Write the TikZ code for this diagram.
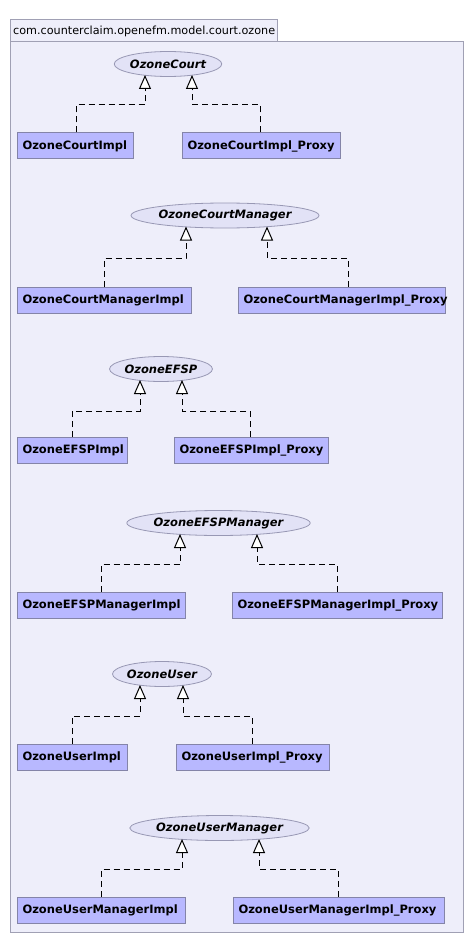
\documentclass[tikz,border=0pt]{standalone}
\usepackage{fontspec}
\setsansfont{DejaVu Sans}
\usetikzlibrary{arrows.meta,calc,shapes.geometric}
\definecolor{bgc}{HTML}{EEEEFA}
\definecolor{framec}{HTML}{A0A0B4}
\definecolor{boxc}{HTML}{B8B8FF}
\definecolor{boxb}{HTML}{8484A8}
\definecolor{ellc}{HTML}{E2E2F6}
\definecolor{ellb}{HTML}{9898B4}
\tikzset{
  x=1pt,y=-1pt,
  classbox/.style={draw=boxb,fill=boxc,line width=1pt,anchor=west,minimum height=26pt,
    inner xsep=5pt,inner ysep=0pt,align=left,font=\sffamily\bfseries\fontsize{11.5}{13}\selectfont},
  iface/.style={ellipse,draw=ellb,fill=ellc,line width=0.8pt,minimum height=25pt,inner sep=0pt,
    font=\sffamily\bfseries\itshape\fontsize{11.5}{13}\selectfont},
  impl/.style={draw=black,line width=1pt,dash pattern=on 6pt off 4pt,
    -{Triangle[length=14pt,width=12pt,fill=white,line width=1pt]}},
}
\begin{document}
\begin{tikzpicture}
\useasboundingbox (0,0) rectangle (473,952);
\fill[white] (0,0) rectangle (473,952);
% package frame
\draw[framec,fill=bgc,line width=1pt] (10,42) rectangle (463,932);
\draw[framec,fill=bgc,line width=1pt] (10,20) rectangle (277,42);
\node[anchor=west,inner sep=0pt,font=\sffamily\fontsize{11.2}{13}\selectfont] (pkg) at (13,31.5) {com.counterclaim.openefm.model.court.ozone};

% Row 1
\node[iface,minimum width=94pt] (e1) at (168,64) {OzoneCourt};
\node[classbox,minimum width=116pt,text width=106pt] (l1) at (17,146) {OzoneCourtImpl};
\node[classbox,minimum width=158pt,text width=148pt] (r1) at (182,146) {OzoneCourtImpl\_Proxy};
\draw[impl] (l1.north -| 76,0) |- (145,105) -- ($(e1.center)+(-23,11)$);
\draw[impl] (r1.north -| 260,0) |- (192,105) -- ($(e1.center)+(24,11)$);

% Row 2
\node[iface,minimum width=162pt] (e2) at (225,215.5) {OzoneCourtManager};
\node[classbox,minimum width=174pt,text width=164pt] (l2) at (17,300) {OzoneCourtManagerImpl};
\node[classbox,minimum width=207pt,text width=197pt] (r2) at (238,300) {OzoneCourtManagerImpl\_Proxy};
\draw[impl] (l2.north -| 104,0) |- (186,258) -- ($(e2.center)+(-39,11)$);
\draw[impl] (r2.north -| 348,0) |- (267,258) -- ($(e2.center)+(42,11)$);

% Row 3
\node[iface,minimum width=87pt] (e3) at (161,369) {OzoneEFSP};
\node[classbox,minimum width=110pt,text width=100pt] (l3) at (17,450.5) {OzoneEFSPImpl};
\node[classbox,minimum width=154pt,text width=144pt] (r3) at (174,450.5) {OzoneEFSPImpl\_Proxy};
\draw[impl] (l3.north -| 72,0) |- (140,411) -- ($(e3.center)+(-21,11)$);
\draw[impl] (r3.north -| 250,0) |- (182,411) -- ($(e3.center)+(21,11)$);

% Row 4
\node[iface,minimum width=155pt] (e4) at (218.5,523) {OzoneEFSPManager};
\node[classbox,minimum width=168pt,text width=158pt] (l4) at (17,605) {OzoneEFSPManagerImpl};
\node[classbox,minimum width=210pt,text width=200pt] (r4) at (232,605) {OzoneEFSPManagerImpl\_Proxy};
\draw[impl] (l4.north -| 101,0) |- (180,564) -- ($(e4.center)+(-38.5,11)$);
\draw[impl] (r4.north -| 337,0) |- (257,564) -- ($(e4.center)+(38.5,11)$);

% Row 5
\node[iface,minimum width=87pt] (e5) at (162,674) {OzoneUser};
\node[classbox,minimum width=110pt,text width=100pt] (l5) at (17,757.5) {OzoneUserImpl};
\node[classbox,minimum width=153pt,text width=143pt] (r5) at (176,757.5) {OzoneUserImpl\_Proxy};
\draw[impl] (l5.north -| 72,0) |- (140,716) -- ($(e5.center)+(-22,11)$);
\draw[impl] (r5.north -| 252,0) |- (183,716) -- ($(e5.center)+(21,11)$);

% Row 6
\node[iface,minimum width=155pt] (e6) at (219.5,828) {OzoneUserManager};
\node[classbox,minimum width=168pt,text width=158pt] (l6) at (17,910) {OzoneUserManagerImpl};
\node[classbox,minimum width=211pt,text width=201pt] (r6) at (233,910) {OzoneUserManagerImpl\_Proxy};
\draw[impl] (l6.north -| 101,0) |- (182,869) -- ($(e6.center)+(-37.5,11)$);
\draw[impl] (r6.north -| 338,0) |- (259,869) -- ($(e6.center)+(39.5,11)$);
\end{tikzpicture}
\end{document}
